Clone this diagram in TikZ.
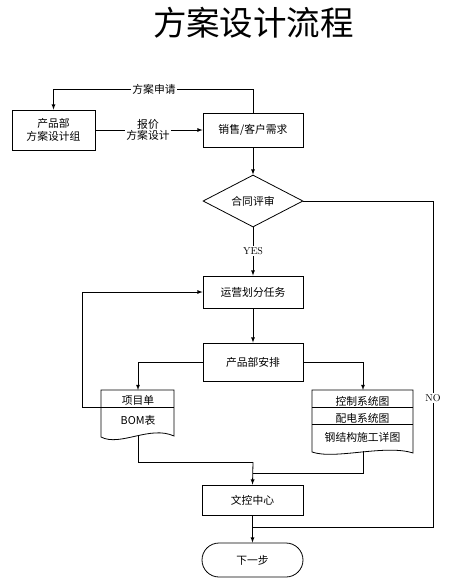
\documentclass[tikz,border=0pt]{standalone}
\usepackage{fontspec}
\newfontfamily\cjk{Noto Sans CJK SC}
\usetikzlibrary{positioning,shapes,arrows}

\begin{document}
\begin{tikzpicture}[x=1pt,y=-1pt,>=latex,
  every node/.style={font=\cjk\fontsize{10.8}{13}\selectfont},
  box/.style={draw,line width=0.8pt,inner sep=0pt,align=center,minimum width=100pt},
  lbl/.style={fill=white,inner sep=1pt,align=center},
  flow/.style={line width=0.8pt}]
\useasboundingbox (0,0) rectangle (456,582);
\node[font=\cjk\fontsize{33.5}{38}\selectfont] (title) at (253.5,23) {方案设计流程};
% boxes
\node[box,minimum width=83pt,minimum height=40pt] (design) at (53.5,130) {产品部\\方案设计组};
\node[box,minimum height=34pt] (sales) at (253,130) {销售/客户需求};
\node[draw,line width=0.8pt,diamond,aspect=1.92,inner sep=0pt,minimum width=100pt,minimum height=52pt] (review) at (253,201) {合同评审};
\node[box,minimum height=32pt] (ops) at (253,292) {运营划分任务};
\node[box,minimum height=38pt] (arrange) at (253,362) {产品部安排};
\node[box,minimum width=101pt,minimum height=30pt] (docc) at (252.5,500) {文控中心};
\node[box,minimum width=101pt,minimum height=34pt,rounded corners=17pt] (next) at (252.5,560) {下一步};
% documents
\draw[flow] (101,437) -- (101,390) -- (174,390) -- (174,436) .. controls (150,425) and (120,447) .. (101,437) -- cycle;
\draw[flow] (101,407) -- (174,407);
\node (bomA) at (138,400) {项目单};
\node (bomB) at (138,420) {BOM表};
\draw[flow] (312,452) -- (312,390) -- (413,390) -- (413,453) .. controls (385,444) and (335,460) .. (312,452) -- cycle;
\draw[flow] (312,407) -- (413,407);
\draw[flow] (312,424) -- (413,424);
\node (ctlA) at (362.5,401) {控制系统图};
\node (ctlB) at (362.5,418) {配电系统图};
\node (ctlC) at (362.5,437) {钢结构施工详图};
\coordinate (bomtop) at (138,390);
\coordinate (bomdiv) at (101,407);
\coordinate (bombot) at (138,436);
\coordinate (ctltop) at (363,390);
\coordinate (ctlbot) at (363,451);
\coordinate (merge) at (253,462);
\coordinate (loopup) at (253,89);
\coordinate (noturn) at (433,527);
\coordinate (nojoin) at (253,527);
% connectors
\draw[flow,->] (sales.north) -- (loopup) -| (design.north);
\node[lbl] (apply) at (154,89) {方案申请};
\draw[flow,->] (design.east) -- (sales.west);
\node[lbl] (quote) at (148,130) {报价\\[-2pt]方案设计};
\draw[flow,->] (sales.south) -- (review.north);
\draw[flow,->] (review.south) -- (ops.north);
\node[lbl,font=\fontsize{10}{12}\selectfont] (yes) at (253,251) {YES};
\draw[flow,->] (ops.south) -- (arrange.north);
\draw[flow,->] (arrange.west) -| (bomtop);
\draw[flow,->] (arrange.east) -| (ctltop);
\draw[flow,->] (bomdiv) -- ++(-19,0) |- (ops.west);
\draw[flow] (bombot) |- (merge);
\draw[flow] (ctlbot) |- (253,473);
\draw[flow,->] (merge) -- (docc.north);
\draw[flow] (review.east) -| (noturn) -- (nojoin);
\node[lbl,font=\fontsize{10}{12}\selectfont] (no) at (433,398) {NO};
\draw[flow,->] (docc.south) -- (next.north);
\end{tikzpicture}
\end{document}
